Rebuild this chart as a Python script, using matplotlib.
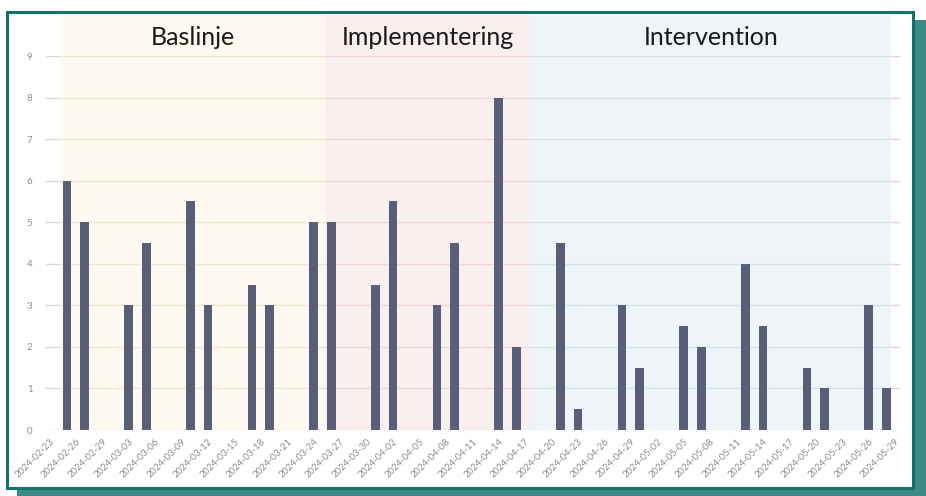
import pandas as pd
import matplotlib
matplotlib.use('Agg')
from matplotlib import pyplot as plt
from matplotlib import dates as mdates
from matplotlib.patches import Rectangle

plt.rcParams['font.family'] = ['Lato', 'DejaVu Sans']

# registration days and counts
dates = ['2024-02-25', '2024-02-27', '2024-03-03', '2024-03-05', '2024-03-10',
         '2024-03-12', '2024-03-17', '2024-03-19', '2024-03-24', '2024-03-26',
         '2024-03-31', '2024-04-02', '2024-04-07', '2024-04-09', '2024-04-14',
         '2024-04-16', '2024-04-21', '2024-04-23', '2024-04-28', '2024-04-30',
         '2024-05-05', '2024-05-07', '2024-05-12', '2024-05-14', '2024-05-19',
         '2024-05-21', '2024-05-26', '2024-05-28']
values = [6, 5, 3, 4.5, 5.5, 3, 3.5, 3, 5, 5,
          3.5, 5.5, 3, 4.5, 8, 2, 4.5, 0.5, 3, 1.5,
          2.5, 2, 4, 2.5, 1.5, 1, 3, 1]

# phases
phase_names = ['Baslinje', 'Implementering', 'Intervention']
phase_edges = ['2024-02-24 05:00', '2024-03-25 07:00', '2024-04-17 14:00', '2024-05-28 14:00']
phase_fill = ['#fefaf1', '#f9efee', '#eef4f8']
phase_grid = ['#f3e7d0', '#f0d6d2', '#d6e4ee']

tick_dates = pd.date_range('2024-02-23', '2024-05-29', freq='3D')

x = pd.to_datetime(dates)
edges = pd.to_datetime(phase_edges)

fig = plt.figure(figsize=(9.26, 4.96), dpi=100)
fig.patch.set_facecolor('white')

# card with shadow
W, H = 926.0, 496.0
fig.add_artist(Rectangle((17 / W, 0), (926 - 17) / W, (496 - 20) / H,
                         transform=fig.transFigure, facecolor='#3d8a85',
                         edgecolor='none', zorder=-3))
fig.add_artist(Rectangle((7 / W, 1 - 488 / H), 906 / W, 476 / H,
                         transform=fig.transFigure, facecolor='white',
                         edgecolor='#17716b', linewidth=2.2, zorder=-2))

ax = fig.add_axes([45 / W, 1 - 430 / H, 855 / W, 374 / H])
ax.patch.set_visible(False)

x0 = pd.Timestamp('2024-02-23') - pd.Timedelta(hours=12)
x1 = pd.Timestamp('2024-02-23') + pd.Timedelta(days=96.55)
ax.set_xlim(x0, x1)
ax.set_ylim(0, 9)

top = (430 - 15) / 374.0
for k in range(3):
    ax.axvspan(edges[k], edges[k + 1], ymin=0, ymax=top, facecolor=phase_fill[k],
               edgecolor='none', zorder=1, clip_on=False)
    ax.hlines(range(0, 10), edges[k], edges[k + 1], colors=phase_grid[k],
              linewidth=1.0, zorder=1.5)
    mid = edges[k] + (edges[k + 1] - edges[k]) / 2
    ax.text(mid, 1.05, phase_names[k], transform=ax.get_xaxis_transform(),
            ha='center', va='center', fontsize=18, color='#1a1a1a', zorder=3)

ax.hlines(range(0, 10), x0, x1, colors='#d9d9d9', linewidth=1.0, zorder=0.5)

ax.bar(x, values, width=1.0, color='#5a5f79', edgecolor='none', zorder=2)

for s in ax.spines.values():
    s.set_visible(False)

ax.set_yticks(range(0, 10))
ax.tick_params(axis='y', length=0, pad=9, labelsize=7, labelcolor='#8c8c8c')

ax.set_xticks(tick_dates)
ax.xaxis.set_major_formatter(mdates.DateFormatter('%Y-%m-%d'))
ax.tick_params(axis='x', length=0, pad=5, labelsize=6.8, labelcolor='#8c8c8c')
for lbl in ax.get_xticklabels():
    lbl.set_rotation(45)
    lbl.set_ha('right')
    lbl.set_va('top')
    lbl.set_rotation_mode('anchor')

fig.savefig('out.png', dpi=100, facecolor='white')
